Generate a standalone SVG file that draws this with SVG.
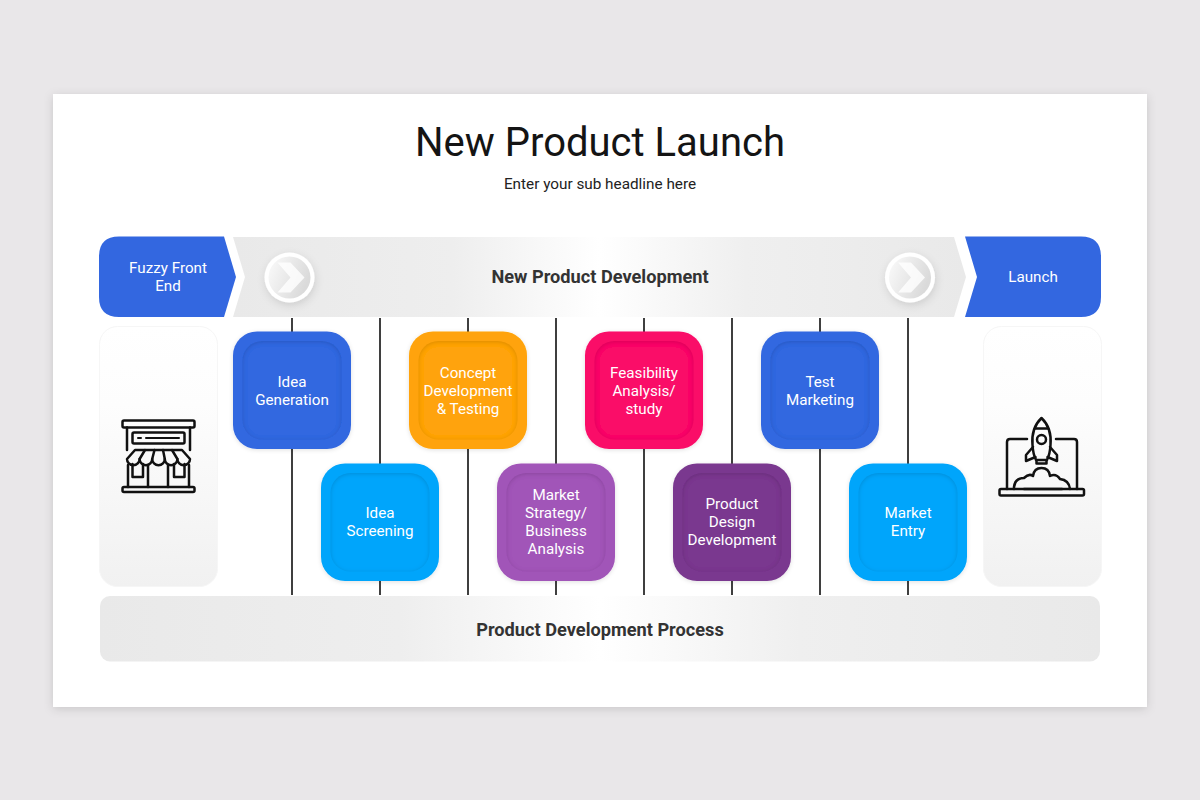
<svg xmlns="http://www.w3.org/2000/svg" width="1200" height="800" viewBox="0 0 1200 800">
<style>
text{font-family:Roboto,"Liberation Sans",sans-serif;text-anchor:middle}
.t{fill:#fff;font-size:15.200px}
.h{fill:#333;font-size:18.200px;font-weight:700}
.v{stroke:#000;stroke-width:1.500;fill:none}
.i{fill:none;stroke:#111;stroke-width:2.500;stroke-linecap:round;stroke-linejoin:round}
.side{fill:url(#sideG);stroke:#f6f6f6;stroke-width:1}
</style>
<defs>
<linearGradient id="bandG" x1="0" x2="1" y1="0" y2="0">
<stop offset="0" stop-color="#e9e9e9"/><stop offset=".3" stop-color="#eeeeee"/><stop offset=".5" stop-color="#ffffff"/><stop offset=".7" stop-color="#efefef"/><stop offset="1" stop-color="#e9e9e9"/>
</linearGradient>
<linearGradient id="sideG" x1="0" x2="0" y1="0" y2="1">
<stop offset="0" stop-color="#fff"/><stop offset=".3" stop-color="#fdfdfd"/><stop offset="1" stop-color="#f1f1f1"/>
</linearGradient>
<linearGradient id="ballG" x1="0" x2="1" y1="0" y2="0.4">
<stop offset="0" stop-color="#fbfbfb"/><stop offset="1" stop-color="#dadada"/>
</linearGradient>
<filter id="panelS" x="-5%" y="-5%" width="110%" height="110%"><feDropShadow dx="0" dy="2" stdDeviation="5" flood-color="#000" flood-opacity=".14"/></filter>
<filter id="cardS" x="-15%" y="-15%" width="130%" height="130%"><feDropShadow dx="0" dy="1" stdDeviation="2" flood-color="#000" flood-opacity=".12"/></filter>
<filter id="ballS" x="-30%" y="-30%" width="160%" height="160%"><feDropShadow dx="1" dy="3" stdDeviation="4" flood-color="#000" flood-opacity=".12"/></filter>
<filter id="inset" x="-10%" y="-10%" width="120%" height="120%">
<feGaussianBlur in="SourceAlpha" stdDeviation="2.200" result="b"/>
<feOffset in="b" dy="1.200" result="o"/>
<feComposite in="SourceAlpha" in2="o" operator="out" result="r"/>
<feFlood flood-color="#000" flood-opacity=".3"/>
<feComposite in2="r" operator="in" result="s"/>
<feMerge><feMergeNode in="SourceGraphic"/><feMergeNode in="s"/></feMerge>
</filter>
<g id="ball">
<circle r="25" fill="#fff" filter="url(#ballS)"/>
<circle r="21" fill="url(#ballG)"/>
<path d="M-12-15H1L15 0 1 15H-12L1 0Z" fill="#fff" fill-opacity=".8"/>
</g>
</defs>
<rect width="1200" height="800" fill="#e9e7e9"/>
<rect x="53" y="94" width="1094" height="613" fill="#fff" filter="url(#panelS)"/>
<text x="600" y="156" font-size="40" fill="#141414">New Product Launch</text>
<text x="600" y="188.500" font-size="15.300" fill="#222">Enter your sub headline here</text>

<g id="connectors">
<path class="v" d="M292 318V595M380 318V595M468 318V595M556 318V595M644 318V595M732 318V595M820 318V595M908 318V595"/>
</g>

<g id="band-dev">
<path d="M233 237H954L966 277 954 317H233L245 277Z" fill="url(#bandG)"/>
<text class="h" x="600" y="283">New Product Development</text>
<use href="#ball" x="289.500" y="277.500"/>
<use href="#ball" x="910" y="277.500"/>
</g>
<g id="fuzzy">
<path d="M119 236.500H224L236 277 224 317H119Q99 317 99 297V256.500Q99 236.500 119 236.500Z" fill="#3367e0"/>
<text class="t" x="168" y="273">Fuzzy Front</text><text class="t" x="168" y="291">End</text>
</g>
<g id="launch">
<path d="M965 236.500H1081Q1101 236.500 1101 256.500V297Q1101 317 1081 317H965L977 277Z" fill="#3367e0"/>
<text class="t" x="1033" y="282">Launch</text>
</g>

<g id="store-panel">
<rect class="side" x="99.500" y="326.500" width="118" height="260" rx="18"/>
<g class="i">
<rect x="122.500" y="420.500" width="72" height="7" rx="1.500"/>
<path d="M127 427.500V450M190 427.500V450M128 465V487M189 465V487"/>
<rect x="132.500" y="432.500" width="52" height="11" rx="1.500"/>
<path d="M138 438H141M146 438H179" stroke-width="2"/>
<path d="M135 450H182L190 459A6.300 6.300 0 0 1 177.400 459 6.300 6.300 0 0 1 164.800 459 6.300 6.300 0 0 1 152.200 459 6.300 6.300 0 0 1 139.600 459 6.300 6.300 0 0 1 127 459Z"/>
<path d="M145 450 139.600 459M154.500 450 152.200 459M163 450 164.800 459M172 450 177.400 459"/>
<path d="M132.500 464V477H143V464M174 464V477H184.500V464M148 465V487M168 465V487"/>
<rect x="122.500" y="487" width="72" height="5" rx="1.500"/>
</g>
</g>
<g id="rocket-panel">
<rect class="side" x="983.500" y="326.500" width="118" height="260" rx="18"/>
<g class="i">
<path d="M1027 439H1010Q1007 439 1007 442V489M1056 439H1074Q1077 439 1077 442V489"/>
<rect x="999.500" y="489" width="84.500" height="6.500" rx="1.500"/>
<path d="M1041.500 418Q1031 428 1032.500 445 1033 454 1036 460H1047Q1050 454 1050.500 445 1052 428 1041.500 418Z"/>
<path d="M1035 428.500H1048"/><circle cx="1041.500" cy="439.500" r="4.500"/>
<path d="M1033 447 1026 455 1026 461 1035.500 457M1050 447 1057 455 1057 461 1047.500 457M1036.500 460V463.500H1046.500V460"/>
<path d="M1014 489V487Q1015 478 1024 478 1029 473 1033 476 1034 468 1041.500 468 1049 468 1050 476 1056 473 1060 479 1069 480 1070 489M1024 489H1062"/>
</g>
</g>

<g id="band-process">
<rect x="100" y="596" width="1000" height="65.500" rx="10" fill="url(#bandG)"/>
<text class="h" x="600" y="635.500">Product Development Process</text>
</g>

<g id="idea-generation"><rect x="233" y="331.500" width="118" height="117.500" rx="24" fill="#3367e0" filter="url(#cardS)"/><rect x="242.500" y="341" width="99" height="98.500" rx="20" fill="#3367e0" filter="url(#inset)"/>
<text class="t" x="292" y="386.500">Idea</text><text class="t" x="292" y="404.500">Generation</text></g>
<g id="concept"><rect x="409" y="331.500" width="118" height="117.500" rx="24" fill="#ffa308" filter="url(#cardS)"/><rect x="418.500" y="341" width="99" height="98.500" rx="20" fill="#ffa308" filter="url(#inset)"/>
<text class="t" x="468" y="377.500">Concept</text><text class="t" x="468" y="395.500">Development</text><text class="t" x="468" y="413.500">&amp; Testing</text></g>
<g id="feasibility"><rect x="585" y="331.500" width="118" height="117.500" rx="24" fill="#fa0a68" filter="url(#cardS)"/><rect x="594.500" y="341" width="99" height="98.500" rx="20" fill="#fa0a68" filter="url(#inset)"/>
<text class="t" x="644" y="377.500">Feasibility</text><text class="t" x="644" y="395.500">Analysis/</text><text class="t" x="644" y="413.500">study</text></g>
<g id="test-marketing"><rect x="761" y="331.500" width="118" height="117.500" rx="24" fill="#3367e0" filter="url(#cardS)"/><rect x="770.500" y="341" width="99" height="98.500" rx="20" fill="#3367e0" filter="url(#inset)"/>
<text class="t" x="820" y="386.500">Test</text><text class="t" x="820" y="404.500">Marketing</text></g>
<g id="idea-screening"><rect x="321" y="463.500" width="118" height="117.500" rx="24" fill="#05a5fb" filter="url(#cardS)"/><rect x="330.500" y="473" width="99" height="98.500" rx="20" fill="#05a5fb" filter="url(#inset)"/>
<text class="t" x="380" y="518">Idea</text><text class="t" x="380" y="536">Screening</text></g>
<g id="market-strategy"><rect x="497" y="463.500" width="118" height="117.500" rx="24" fill="#a154b8" filter="url(#cardS)"/><rect x="506.500" y="473" width="99" height="98.500" rx="20" fill="#a154b8" filter="url(#inset)"/>
<text class="t" x="556" y="499.500">Market</text><text class="t" x="556" y="517.500">Strategy/</text><text class="t" x="556" y="536">Business</text><text class="t" x="556" y="554">Analysis</text></g>
<g id="product-design"><rect x="673" y="463.500" width="118" height="117.500" rx="24" fill="#7a388f" filter="url(#cardS)"/><rect x="682.500" y="473" width="99" height="98.500" rx="20" fill="#7a388f" filter="url(#inset)"/>
<text class="t" x="732" y="509">Product</text><text class="t" x="732" y="527">Design</text><text class="t" x="732" y="545">Development</text></g>
<g id="market-entry"><rect x="849" y="463.500" width="118" height="117.500" rx="24" fill="#05a5fb" filter="url(#cardS)"/><rect x="858.500" y="473" width="99" height="98.500" rx="20" fill="#05a5fb" filter="url(#inset)"/>
<text class="t" x="908" y="518">Market</text><text class="t" x="908" y="536">Entry</text></g>
</svg>
